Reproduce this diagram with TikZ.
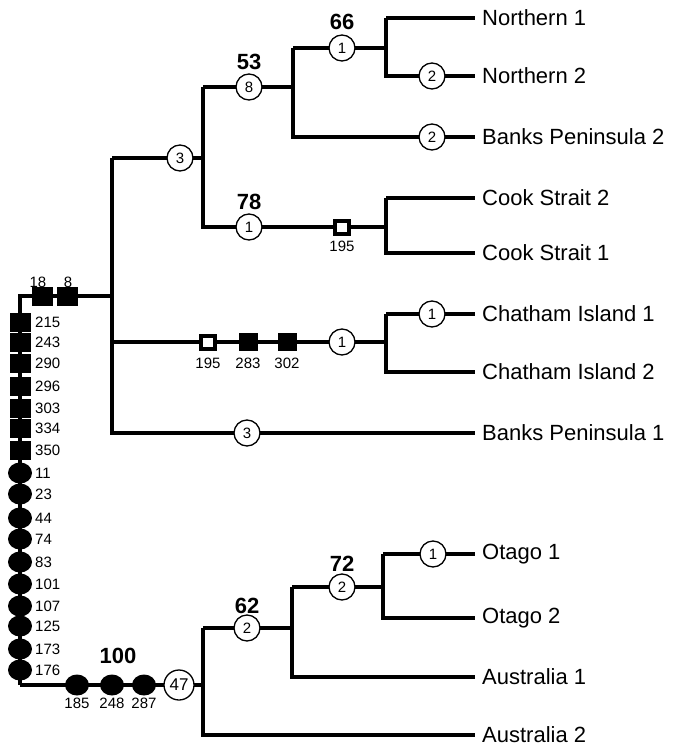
\documentclass[tikz,border=0pt]{standalone}
\usepackage{fontspec}
\setmainfont{Liberation Sans}
\usetikzlibrary{shapes.geometric}
\tikzset{
  branch/.style={line width=4.2pt},
  mut/.style={circle,draw,fill=white,line width=1.3pt,minimum size=26pt,inner sep=0pt,font=\fontsize{15}{15}\selectfont},
  bigmut/.style={mut,minimum size=30pt,font=\fontsize{17}{17}\selectfont},
  sq/.style={rectangle,fill=black,minimum width=21pt,minimum height=19pt,inner sep=0pt},
  osq/.style={rectangle,draw,fill=white,line width=4pt,minimum width=14pt,minimum height=13pt,inner sep=0pt},
  dot/.style={ellipse,fill=black,minimum width=24pt,minimum height=21pt,inner sep=0pt},
  sitelbl/.style={font=\fontsize{15}{15}\selectfont,inner sep=1pt},
  boot/.style={font=\bfseries\fontsize{22}{22}\selectfont,inner sep=1pt},
  taxon/.style={anchor=west,font=\fontsize{22}{22}\selectfont,inner xsep=7pt,inner ysep=2pt}
}
\begin{document}
\begin{tikzpicture}[x=1pt,y=-1pt]
\useasboundingbox (0,0) rectangle (675,746);
% joints
\coordinate (rtop) at (20,296);
\coordinate (rbot) at (20,685);
\coordinate (top) at (112,296);
\coordinate (jA) at (203,158);
\coordinate (jB) at (293,87);
\coordinate (jC) at (386,48);
\coordinate (jD) at (386,227);
\coordinate (jE) at (386,342);
\coordinate (bot) at (203,685);
\coordinate (jF) at (292,628);
\coordinate (jG) at (383,587);
% taxa
\node[taxon] (n1) at (475,18) {Northern 1};
\node[taxon] (n2) at (475,76) {Northern 2};
\node[taxon] (bp2) at (475,137) {Banks Peninsula 2};
\node[taxon] (cs2) at (475,198) {Cook Strait 2};
\node[taxon] (cs1) at (475,253) {Cook Strait 1};
\node[taxon] (ci1) at (475,314) {Chatham Island 1};
\node[taxon] (ci2) at (475,372) {Chatham Island 2};
\node[taxon] (bp1) at (475,433) {Banks Peninsula 1};
\node[taxon] (ot1) at (475,554) {Otago 1};
\node[taxon] (ot2) at (475,618) {Otago 2};
\node[taxon] (au1) at (475,677) {Australia 1};
\node[taxon] (au2) at (475,735) {Australia 2};
% branches
\draw[branch] (rbot) -- (rtop) -- (top);
\draw[branch] (rbot) -- (bot);
\draw[branch] (top |- jA) -- (top |- bp1) -- (bp1.west);
\draw[branch] (top |- jA) -- (jA);
\draw[branch] (jA |- jB) -- (jA |- jD) -- (jD);
\draw[branch] (jA |- jB) -- (jB);
\draw[branch] (jB |- jC) -- (jB |- bp2) -- (bp2.west);
\draw[branch] (jB |- jC) -- (jC);
\draw[branch] (jC |- n1) -- (n1.west);
\draw[branch] (jC |- n1) -- (jC |- n2) -- (n2.west);
\draw[branch] (jD |- cs2) -- (cs2.west);
\draw[branch] (jD |- cs2) -- (jD |- cs1) -- (cs1.west);
\draw[branch] (top |- jE) -- (jE);
\draw[branch] (jE |- ci1) -- (ci1.west);
\draw[branch] (jE |- ci1) -- (jE |- ci2) -- (ci2.west);
\draw[branch] (bot |- jF) -- (bot |- au2) -- (au2.west);
\draw[branch] (bot |- jF) -- (jF);
\draw[branch] (jF |- jG) -- (jF |- au1) -- (au1.west);
\draw[branch] (jF |- jG) -- (jG);
\draw[branch] (jG |- ot1) -- (ot1.west);
\draw[branch] (jG |- ot1) -- (jG |- ot2) -- (ot2.west);
% root changes
\node[sq] (s18) at (42,296) {};
\node[sq] (s8) at (67,296) {};
\node[sitelbl] at (38,282) {18};
\node[sitelbl] at (68,282) {8};
\foreach \y/\t in {322/215,342/243,363/290,386/296,408/303,428/334,450/350}{
  \node[sq] (s\t) at (20,\y) {};
  \node[sitelbl,anchor=west] at (34,\y) {\t};
}
\foreach \y/\t in {473/11,494/23,518/44,539/74,562/83,584/101,606/107,626/125,649/173,670/176}{
  \node[dot] (e\t) at (20,\y) {};
  \node[sitelbl,anchor=west] at (34,\y) {\t};
}
\foreach \x/\t in {77/185,112/248,144/287}{
  \node[dot] (e\t) at (\x,685) {};
  \node[sitelbl] at (\x,703) {\t};
}
\node[boot] at (118,656) {100};
\node[bigmut] (m47) at (179,685) {47};
% top clade
\node[mut] (mA) at (180,158) {3};
\node[mut] (mB) at (249,87) {8};
\node[boot] at (249,62) {53};
\node[mut] (mC) at (342,48) {1};
\node[boot] at (342,22) {66};
\node[mut] (mn2) at (432,76) {2};
\node[mut] (mbp2) at (432,137) {2};
\node[mut] (mD) at (249,227) {1};
\node[boot] at (249,202) {78};
\node[osq] (o195a) at (342,227) {};
\node[sitelbl] at (342,246) {195};
\node[osq] (o195b) at (208,342) {};
\node[sq,minimum width=19pt,minimum height=18pt] (s283) at (248,342) {};
\node[sq,minimum width=19pt,minimum height=18pt] (s302) at (287,342) {};
\foreach \x/\t in {208/195,248/283,287/302}
  \node[sitelbl] at (\x,363) {\t};
\node[mut] (mE) at (342,342) {1};
\node[mut] (mci1) at (432,314) {1};
\node[mut] (mbp1) at (247,433) {3};
% bottom clade
\node[mut] (mF) at (247,628) {2};
\node[boot] at (247,606) {62};
\node[mut] (mG) at (342,587) {2};
\node[boot] at (342,564) {72};
\node[mut] (mot1) at (433,554) {1};
\end{tikzpicture}
\end{document}
